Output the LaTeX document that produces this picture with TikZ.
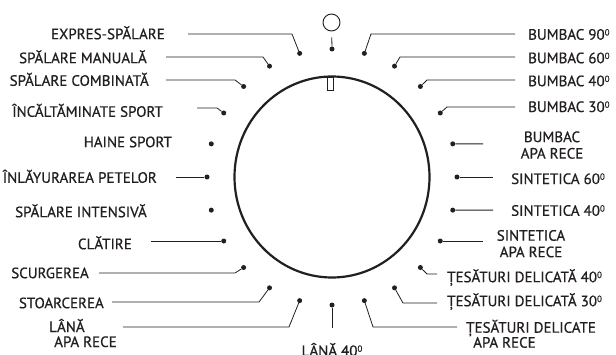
\documentclass[tikz,border=0pt]{standalone}
\usepackage{fontspec}
\setmainfont{PT Sans}[FakeBold=0.6]
\usetikzlibrary{positioning}
\definecolor{ink}{HTML}{231F20}
\newcommand{\supzero}{\raisebox{4.2pt}{\fontsize{9}{9}\selectfont 0}}
\pgfdeclareradialshading{dialshade}{\pgfpoint{0bp}{0bp}}{color(0bp)=(white); color(32bp)=(white); color(50bp)=(black!11)}

\begin{document}
\begin{tikzpicture}[x=1pt,y=1pt,
    dot/.style={circle,fill=ink,inner sep=0pt,minimum size=5pt},
    lead/.style={draw=ink,line width=0.8pt},
    lbl/.style={inner sep=0pt,text=ink,font=\fontsize{15}{15}\selectfont},
    lbltwo/.style={lbl,font=\fontsize{15}{16.5}\selectfont}]
  \useasboundingbox[fill=white] (0,0) rectangle (616,354);
  \coordinate (ctr) at (332,177);
  % dial
  \shade[draw=ink,line width=2.2pt,shading=dialshade] (ctr) ellipse [x radius=97.5,y radius=100.5];
  \node[draw=ink,fill=white,line width=0.7pt,inner sep=0pt,minimum width=5.5pt,minimum height=13pt] (mark) at (330.5,270) {};
  \node[draw=ink,circle,line width=0.9pt,inner sep=0pt,minimum size=17pt] (off) at (331.5,331.5) {};
  \foreach \a in {0,15,...,345}
    \node[dot] (d\a) at ([shift={(\a:125 and 128)}]ctr) {};
  \draw[lead,shorten >=6pt] (d90) -- (off);
  % programmes, left
  \node[lbl,anchor=base east] (expres) at (165,314.8) {EXPRES-SPĂLARE};
  \node[lbl,anchor=base east] (manual) at (147,290.8) {SPĂLARE MANUALĂ};
  \node[lbl,anchor=base east] (combi) at (149,268.2) {SPĂLARE COMBINATĂ};
  \node[lbl,anchor=base east] (incalt) at (163,237.2) {ÎNCĂLTĂMINATE SPORT};
  \node[lbl,anchor=base east] (haine) at (172,206.8) {HAINE SPORT};
  \node[lbl,anchor=base east] (pete) at (157,171.2) {ÎNLĂYURAREA PETELOR};
  \node[lbl,anchor=base east] (intens) at (147,136.8) {SPĂLARE INTENSIVĂ};
  \node[lbl,anchor=base east] (clatire) at (132,104.8) {CLĂTIRE};
  \node[lbl,anchor=base east] (scurg) at (89,75.8) {SCURGEREA};
  \node[lbl,anchor=base east] (stoarc) at (104,45.8) {STOARCEREA};
  \node[lbl,anchor=base west,align=left] (lanarece) at (49,7) {LÂNĂ\\\hspace*{5pt}APA RECE};
  \node[lbl,anchor=base] (lana40) at (332,-2) {LÂNĂ 40\supzero};
  % programmes, right
  \node[lbl,anchor=base west] (bumbac90) at (528,314.3) {BUMBAC 90\supzero};
  \node[lbl,anchor=base west] (bumbac60) at (528,290.8) {BUMBAC 60\supzero};
  \node[lbl,anchor=base west] (bumbac40) at (528,267.8) {BUMBAC 40\supzero};
  \node[lbl,anchor=base west] (bumbac30) at (528,242) {BUMBAC 30\supzero};
  \node[lbltwo,anchor=base,align=center] (bumbacrece) at (552,195.4) {BUMBAC\\APA RECE};
  \node[lbl,anchor=base west] (sint60) at (511,170) {SINTETICA 60\supzero};
  \node[lbl,anchor=base west] (sint40) at (511,138.2) {SINTETICA 40\supzero};
  \node[lbltwo,anchor=base,align=center] (sintrece) at (531,96.8) {SINTETICA\\APA RECE};
  \node[lbl,anchor=base west] (tes40) at (447,71.8) {ȚESĂTURI DELICATĂ 40\supzero};
  \node[lbl,anchor=base west] (tes30) at (447,47.8) {ȚESĂTURI DELICATĂ 30\supzero};
  \node[lbl,anchor=base west,align=left] (tesrece) at (466,6.3) {ȚESĂTURI DELICATE\\\hspace*{7pt}APA RECE};
  % leaders
  \foreach \a/\kx/\ky/\ex in {105/292/320/188, 120/263/297/166, 135/235/274/166,
      150/217/246/197, 180/176/177/176, 210/151/113/151, 225/235/81/99,
      240/259/52/112, 255/289/27/123, 270/332/26/332, 285/373/27/457,
      300/403/51/437, 315/427/80/437, 330/483/113/483, 345/493/143.9/493,
      0/493/177/493, 15/483/210.1/483, 30/447/247/515, 45/427/274/515,
      60/400/297/515, 75/371/320/515}{
    \coordinate (k\a) at (\kx,\ky);
    \coordinate (e\a) at (\ex,\ky);
    \draw[lead] (d\a) -- (k\a) -- (e\a);
  }
\end{tikzpicture}
\end{document}
